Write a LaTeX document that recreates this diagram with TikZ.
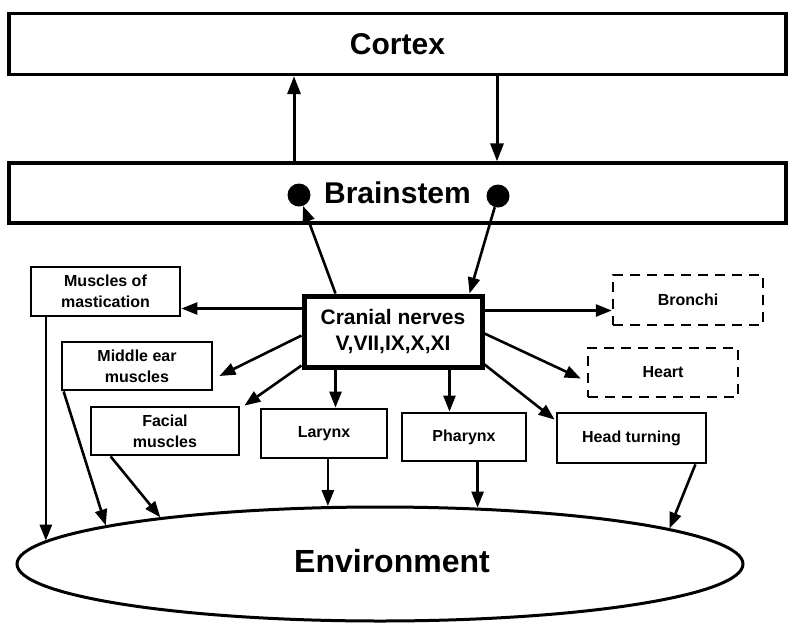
\documentclass[tikz,border=0pt]{standalone}
\usepackage{fontspec}
\setmainfont{Liberation Sans}
\usetikzlibrary{arrows.meta,calc,shapes.geometric}
\begin{document}
\begin{tikzpicture}[x=1pt,y=-1pt,
  bigbox/.style={draw,line width=3.2pt,inner sep=0pt,font=\bfseries\fontsize{30}{32}\selectfont},
  smallbox/.style={draw,line width=2.8pt,inner sep=0pt,align=center,font=\bfseries\fontsize{16}{21}\selectfont},
  dashbox/.style={smallbox,line width=2.4pt,dash pattern=on 10pt off 7pt},
  arr/.style={line width=2.6pt,-{Triangle[length=16pt,width=12pt]}},
  bigarr/.style={line width=3pt,-{Triangle[length=18pt,width=13pt]}},
  dot/.style={circle,fill=black,inner sep=0pt,minimum size=23pt}]
\useasboundingbox (0,0) rectangle (796,622);
% main boxes
\node[bigbox,minimum width=777pt,minimum height=61pt] (cortex) at (397.5,44) {Cortex};
\node[bigbox,minimum width=777pt,minimum height=60pt] (brain) at (397.5,193) {Brainstem};
\node[dot] (dotL) at (299,195) {};
\node[dot] (dotR) at (498,196) {};
\node[draw,line width=5pt,inner sep=0pt,minimum width=178pt,minimum height=71pt,align=center,
      font=\bfseries\fontsize{21}{26}\selectfont] (cn) at (393,331.5) {Cranial nerves\\V,VII,IX,X,XI};
% effector boxes
\node[smallbox,minimum width=149pt,minimum height=49pt] (mast) at (105.5,291.5) {Muscles of\\mastication};
\node[smallbox,minimum width=150pt,minimum height=48pt] (mid) at (137,366) {Middle ear\\muscles};
\node[smallbox,minimum width=148pt,minimum height=48pt] (fac) at (165,431) {Facial\\muscles};
\node[smallbox,minimum width=126pt,minimum height=49pt] (lar) at (324,433.5) {Larynx};
\node[smallbox,minimum width=124pt,minimum height=48pt] (pha) at (464,437) {Pharynx};
\node[smallbox,minimum width=149pt,minimum height=50pt] (head) at (631.5,438) {Head turning};
\node[dashbox,minimum width=150pt,minimum height=50pt] (bron) at (688,300) {Bronchi};
\node[dashbox,minimum width=150pt,minimum height=49pt] (heart) at (663,372.5) {Heart};
% environment
\node[draw,ellipse,line width=3pt,inner sep=0pt,minimum width=726pt,minimum height=114pt] (env) at (380,564) {};
\node[font=\bfseries\fontsize{32}{34}\selectfont] (envt) at (392,561) {Environment};
% cortex <-> brainstem
\draw[bigarr] (brain.north -| 294,0) -- (cortex.south -| 294,0);
\draw[bigarr] (cortex.south -| 497,0) -- (brain.north -| 497,0);
% brainstem <-> cranial nerves
\draw[arr] ($(cn.north west)+(34,0)$) -- (dotL);
\draw[arr] (dotR) -- ($(cn.north east)+(-15,0)$);
% cranial nerves -> effectors
\draw[arr] ($(cn.north west)+(0,15)$) coordinate (m1) -- (m1 -| mast.east);
\draw[arr] ($(cn.north west)+(0,42)$) -- ($(mid.east)+(6,10)$);
\draw[arr] ($(cn.south west)+(0,-4)$) -- ($(fac.north east)+(4,0)$);
\draw[arr] ($(cn.south west)+(34,0)$) coordinate (l1) -- (l1 |- lar.north);
\draw[arr] ($(cn.south west)+(148,0)$) coordinate (p1) -- (p1 |- pha.north);
\draw[arr] ($(cn.south east)+(0,-5)$) -- ($(head.north west)+(-1,8)$);
\draw[arr] ($(cn.north east)+(0,40)$) -- ($(heart.west)+(-6,6)$);
\draw[arr] ($(cn.north east)+(0,17)$) coordinate (b1) -- (b1 -| bron.west);
% effectors -> environment
\draw[arr] (env.176.4 |- mast.south) -- (env.176.4);
\draw[arr] ($(mid.south west)+(3,0)$) -- (env.172.8);
\draw[arr] ($(fac.south west)+(21,0)$) -- (env.168.1);
\draw[arr] (env.132.1 |- lar.south) -- (env.132.1);
\draw[arr] (env.30.1 |- pha.south) -- (env.30.1);
\draw[arr] ($(head.south east)+(-12,0)$) -- (env.7.1);
\end{tikzpicture}
\end{document}
